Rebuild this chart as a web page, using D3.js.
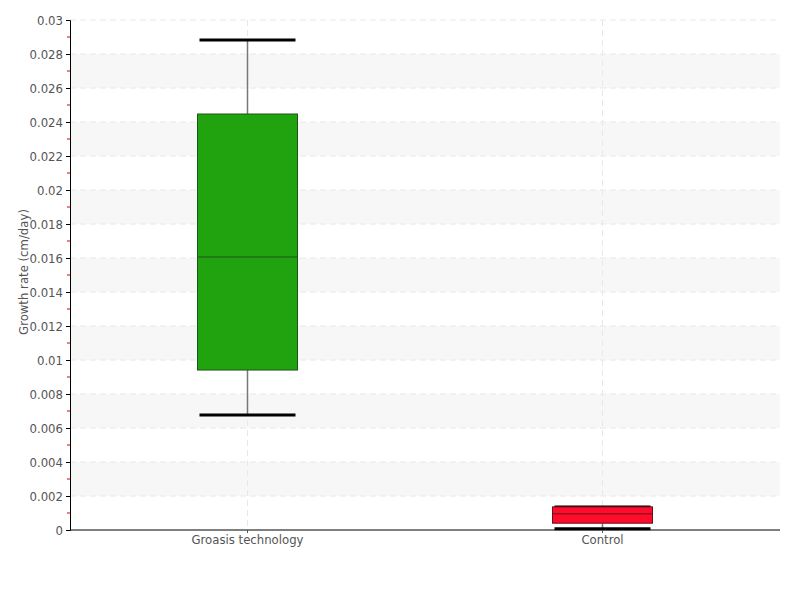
<!DOCTYPE html>
<html><head><meta charset="utf-8">
<script src="https://cdn.jsdelivr.net/npm/d3@7"></script>
<style>
body{margin:0;background:#fff;}
text{font-family:"DejaVu Sans Condensed","DejaVu Sans",sans-serif;font-stretch:condensed;}
</style></head>
<body><svg id="c" width="800" height="600"></svg>
<script>
const categories = ["Groasis technology", "Control"];
const mins    = [0.00676, 0.00008];
const q1s     = [0.00941, 0.00040];
const medians = [0.01606, 0.00095];
const q3s     = [0.02447, 0.00136];
const maxs    = [0.02882, 0.00136];
const fills   = ["#21a30f", "#ff0b2b"];
const strokes = ["#1d5516", "#6a0f1a"];
const yTicks  = d3.range(0, 0.0301, 0.002);
const yLabel  = "Growth rate (cm/day)";

const svg = d3.select("#c");
const L=70, R=780, T=20, B=530;
const x = d3.scaleBand().domain(categories).range([L,R]);
const y = d3.scaleLinear().domain([0,0.03]).range([B,T]);

const g = svg.append("g");
for (let i=0;i<yTicks.length-1;i++){
  if (i%2===1){
    g.append("rect").attr("x",L).attr("width",R-L)
      .attr("y",y(yTicks[i+1])).attr("height",y(yTicks[i])-y(yTicks[i+1]))
      .attr("fill","#f7f7f7");
  }
}
g.selectAll(".hg").data(yTicks.slice(1)).enter().append("line")
  .attr("x1",L).attr("x2",R).attr("y1",d=>y(d)).attr("y2",d=>y(d))
  .attr("stroke","#e8e8e8").attr("stroke-dasharray","6,4");
g.selectAll(".vg").data(categories).enter().append("line")
  .attr("x1",d=>x(d)+x.bandwidth()/2).attr("x2",d=>x(d)+x.bandwidth()/2)
  .attr("y1",T).attr("y2",B)
  .attr("stroke","#e8e8e8").attr("stroke-dasharray","6,4");

const bw = 100, cw = 96;
categories.forEach((c,i)=>{
  const cx = x(c)+x.bandwidth()/2;
  const bg = svg.append("g");
  bg.append("line").attr("x1",cx).attr("x2",cx).attr("y1",y(maxs[i])).attr("y2",y(q3s[i]))
    .attr("stroke","#777").attr("stroke-width",1.5);
  bg.append("line").attr("x1",cx).attr("x2",cx).attr("y1",y(q1s[i])).attr("y2",y(mins[i]))
    .attr("stroke","#777").attr("stroke-width",1.5);
  bg.append("line").attr("x1",cx-cw/2).attr("x2",cx+cw/2).attr("y1",y(maxs[i])).attr("y2",y(maxs[i]))
    .attr("stroke","#000").attr("stroke-width",3);
  bg.append("line").attr("x1",cx-cw/2).attr("x2",cx+cw/2).attr("y1",y(mins[i])).attr("y2",y(mins[i]))
    .attr("stroke","#000").attr("stroke-width",3);
  bg.append("rect").attr("x",cx-bw/2).attr("width",bw)
    .attr("y",y(q3s[i])).attr("height",y(q1s[i])-y(q3s[i]))
    .attr("fill",fills[i]).attr("stroke",strokes[i]).attr("stroke-width",1);
  bg.append("line").attr("x1",cx-bw/2).attr("x2",cx+bw/2).attr("y1",y(medians[i])).attr("y2",y(medians[i]))
    .attr("stroke",strokes[i]).attr("stroke-width",1);
});

const ya = svg.append("g").attr("transform",`translate(${L},0)`)
  .call(d3.axisLeft(y).tickValues(yTicks).tickSize(4).tickPadding(3).tickFormat(d=>+d.toFixed(3)+""));
ya.select(".domain").attr("stroke","#000");
ya.selectAll(".tick line").attr("stroke","#000");
ya.selectAll("text").attr("font-size",13).attr("fill","#555");
svg.append("g").selectAll("line").data(d3.range(0.001,0.03,0.002)).enter().append("line")
  .attr("x1",L-3).attr("x2",L).attr("y1",d=>y(d)).attr("y2",d=>y(d)).attr("stroke","#d00");

const xa = svg.append("g").attr("transform",`translate(0,${B})`)
  .call(d3.axisBottom(x).tickSize(3).tickPadding(2));
xa.select(".domain").attr("stroke","#000").attr("d",`M${L},0H${R}`);
xa.selectAll(".tick line").attr("stroke","#555");
xa.selectAll("text").attr("font-size",13).attr("fill","#555");

svg.append("text").attr("transform","translate(28,272) rotate(-90)")
  .attr("text-anchor","middle").attr("font-size",13).attr("fill","#555").text(yLabel);
</script></body></html>
